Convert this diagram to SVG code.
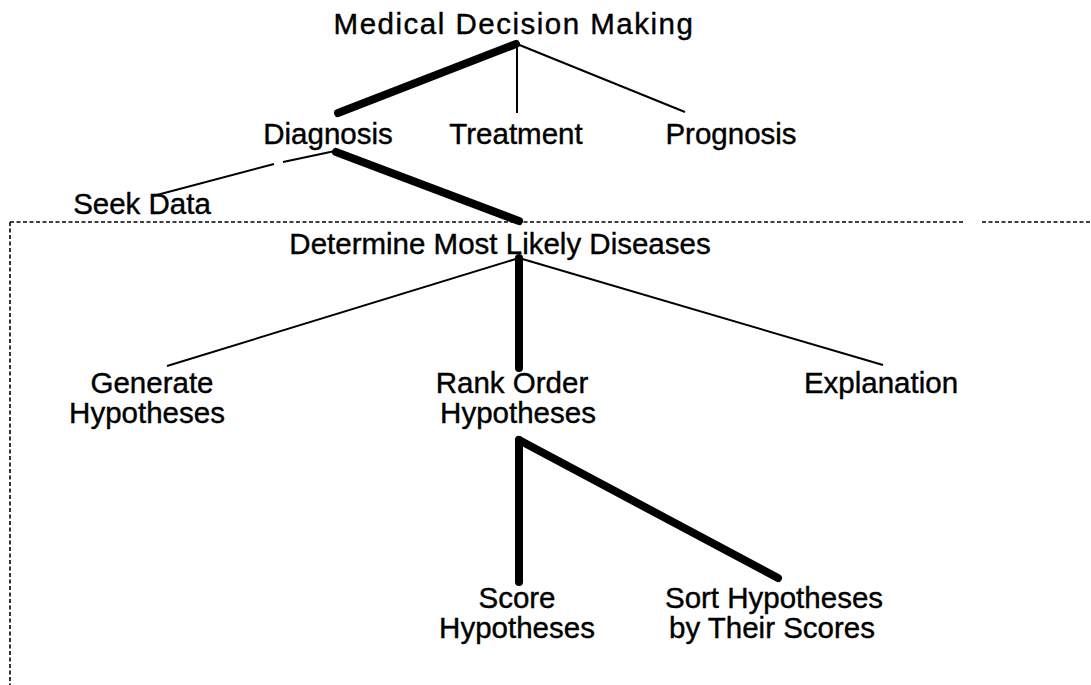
<svg xmlns="http://www.w3.org/2000/svg" width="1091" height="685" viewBox="0 0 1091 685">
  <style>
    text { font-family: "Liberation Sans", Arial, sans-serif; font-size: 29.5px; fill: #000; stroke: #000; stroke-width: 0.4; text-anchor: middle; }
    .title { letter-spacing: 1.5px; }
    .thick { stroke: #000; stroke-width: 8; stroke-linecap: round; fill: none; }
    .thin { stroke: #000; stroke-width: 2; fill: none; }
    .dash { stroke: #000; stroke-width: 1.6; stroke-dasharray: 4 2.5; fill: none; }
  </style>
  <rect width="1091" height="685" fill="#fff"/>

  <g id="connectors">
    <!-- top level -->
    <line class="thick" x1="516" y1="44" x2="338" y2="113"/>
    <line class="thin" x1="517" y1="44" x2="517" y2="113"/>
    <line class="thin" x1="517" y1="44" x2="685" y2="112"/>
    <!-- diagnosis branches (the thin one is broken near its middle) -->
    <line class="thin" x1="335" y1="151" x2="283" y2="162"/>
    <line class="thin" x1="274" y1="164" x2="153" y2="196"/>
    <line class="thick" x1="336" y1="152" x2="519" y2="221"/>
    <!-- determine most likely diseases -->
    <line class="thin" x1="519" y1="258" x2="167" y2="366"/>
    <line class="thick" x1="519" y1="258" x2="519" y2="368"/>
    <line class="thin" x1="519" y1="258" x2="883" y2="365"/>
    <!-- rank order -->
    <line class="thick" x1="519" y1="440" x2="519" y2="582"/>
    <line class="thick" x1="519" y1="440" x2="778" y2="578"/>
  </g>

  <g id="boundary">
    <line class="dash" x1="10" y1="222" x2="964" y2="222"/>
    <line class="dash" x1="982" y1="222" x2="1091" y2="222"/>
    <line class="dash" x1="10" y1="222" x2="10" y2="685"/>
  </g>

  <g id="medical-decision-making"><text class="title" x="514" y="34">Medical Decision Making</text></g>
  <g id="diagnosis"><text x="328" y="144">Diagnosis</text></g>
  <g id="treatment"><text x="516" y="144">Treatment</text></g>
  <g id="prognosis"><text x="731" y="144">Prognosis</text></g>
  <g id="seek-data"><text x="142" y="214">Seek Data</text></g>
  <g id="determine"><text x="500" y="254">Determine Most Likely Diseases</text></g>
  <g id="generate">
    <text x="152" y="393">Generate</text>
    <text x="147" y="423">Hypotheses</text>
  </g>
  <g id="rank-order">
    <text x="512" y="393">Rank Order</text>
    <text x="518" y="423">Hypotheses</text>
  </g>
  <g id="explanation"><text x="881" y="393">Explanation</text></g>
  <g id="score">
    <text x="517" y="608">Score</text>
    <text x="517" y="638">Hypotheses</text>
  </g>
  <g id="sort">
    <text x="774" y="608">Sort Hypotheses</text>
    <text x="772" y="638">by Their Scores</text>
  </g>
</svg>
